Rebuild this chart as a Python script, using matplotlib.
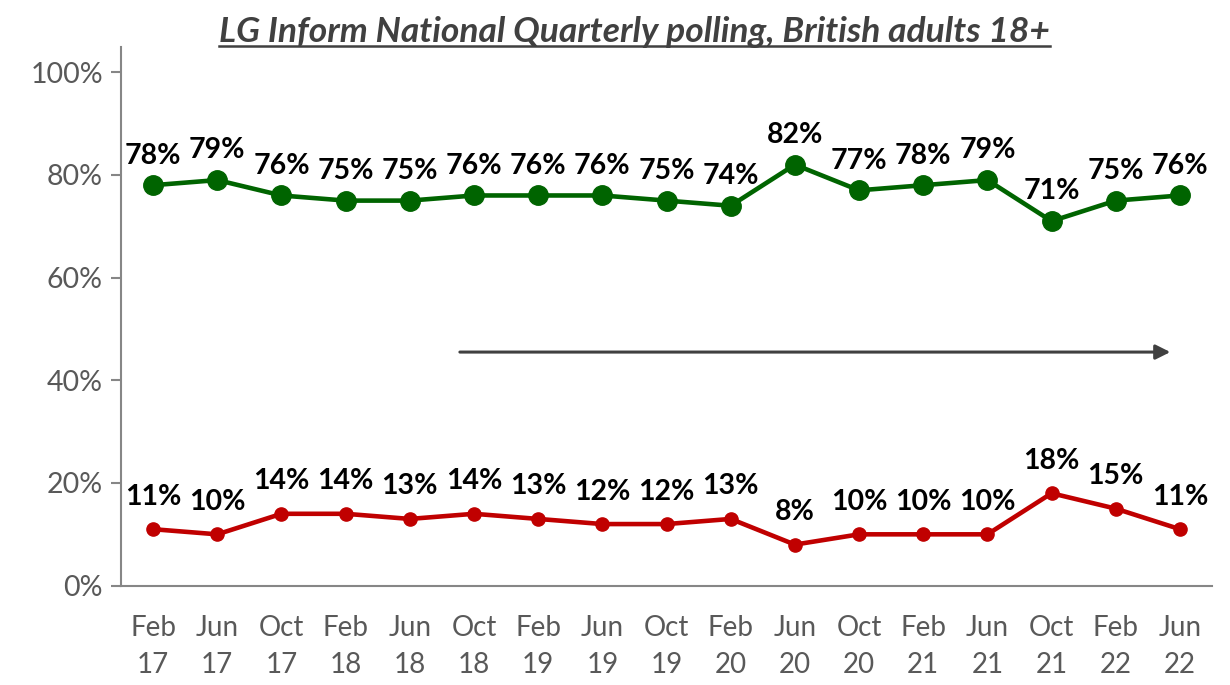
import matplotlib.pyplot as plt
import numpy as np

plt.rcParams['font.family'] = ['Lato', 'DejaVu Sans']

quarters = ["Feb\n17", "Jun\n17", "Oct\n17", "Feb\n18", "Jun\n18", "Oct\n18",
            "Feb\n19", "Jun\n19", "Oct\n19", "Feb\n20", "Jun\n20", "Oct\n20",
            "Feb\n21", "Jun\n21", "Oct\n21", "Feb\n22", "Jun\n22"]
green_vals = [78, 79, 76, 75, 75, 76, 76, 76, 75, 74, 82, 77, 78, 79, 71, 75, 76]
red_vals = [11, 10, 14, 14, 13, 14, 13, 12, 12, 13, 8, 10, 10, 10, 18, 15, 11]
yticks = [0, 20, 40, 60, 80, 100]

fig = plt.figure(figsize=(12.3, 6.85), dpi=100)
ax = fig.add_axes([0.0984, 0.145, 0.887, 0.787])

x = np.arange(len(quarters))
ax.plot(x, green_vals, color="#006400", lw=3.3, marker="o", ms=14, zorder=3)
ax.plot(x, red_vals, color="#C00000", lw=3.3, marker="o", ms=9.5, zorder=3)

for xi, v in zip(x, green_vals):
    ax.annotate(f"{v}%", (xi, v), xytext=(0, 12), textcoords="offset points",
                ha="center", va="bottom", fontsize=20.5, fontweight="bold", color="black")
for xi, v in zip(x, red_vals):
    ax.annotate(f"{v}%", (xi, v), xytext=(0, 14), textcoords="offset points",
                ha="center", va="bottom", fontsize=20.5, fontweight="bold", color="black")

# trend arrow
ax.annotate("", xy=(15.85, 45.5), xytext=(4.78, 45.5),
            arrowprops=dict(arrowstyle="-|>", color="#404040", lw=2.2,
                            mutation_scale=22, shrinkA=0, shrinkB=0))

ax.set_xlim(-0.5, 16.5)
ax.set_ylim(0, 105)
ax.set_xticks(x)
ax.set_xticklabels(quarters, fontsize=20, color="#595959", linespacing=1.55)
ax.set_yticks(yticks)
ax.set_yticklabels([f"{t}%" for t in yticks], fontsize=20.5, color="#595959")
ax.tick_params(axis="x", length=0, pad=21)
ax.tick_params(axis="y", length=7, width=1.5, color="#868686", pad=6)

for s in ["top", "right"]:
    ax.spines[s].set_visible(False)
for s in ["left", "bottom"]:
    ax.spines[s].set_color("#868686")
    ax.spines[s].set_linewidth(1.5)

title = fig.text(0.516, 0.954, "LG Inform National Quarterly polling, British adults 18+",
                 ha="center", va="center", fontsize=25.5, fontweight="bold", style="italic",
                 color="#404040")
# underline matching the title width
fig.canvas.draw()
bb = title.get_window_extent().transformed(fig.transFigure.inverted())
fig.add_artist(plt.Line2D([bb.x0, bb.x1], [0.933, 0.933], color="#404040", lw=1.8))

fig.savefig("out.png", dpi=100)
